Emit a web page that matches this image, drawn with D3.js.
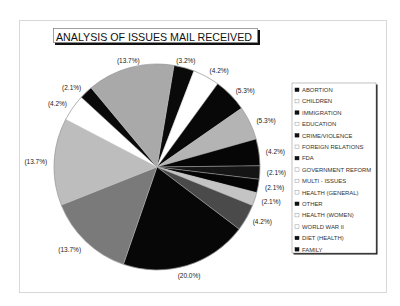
<!DOCTYPE html>
<html>
<head>
<meta charset="utf-8">
<script src="https://cdn.jsdelivr.net/npm/d3@7"></script>
<style>
  body { margin: 0; background: #fff; }
  text { font-family: Arial, "Liberation Sans", sans-serif; }
</style>
</head>
<body>
<div id="chart"></div>
<script>
// Legend categories, in the order they are listed
const categories = ["ABORTION", "CHILDREN", "IMMIGRATION", "EDUCATION", "CRIME/VIOLENCE",
  "FOREIGN RELATIONS", "FDA", "GOVERNMENT REFORM", "MULTI - ISSUES", "HEALTH (GENERAL)",
  "OTHER", "HEALTH (WOMEN)", "WORLD WAR II", "DIET (HEALTH)", "FAMILY"];

// Slice percentages, clockwise from just right of 12 o'clock
const sliceValues = [3.2, 4.2, 5.3, 5.3, 4.2, 2.1, 2.1, 2.1, 4.2, 20.0, 13.7, 13.7, 4.2, 2.1, 13.7];

// grey shades as they appear on the scan
const sliceShades = ["#0a0a0a", "#ffffff", "#080808", "#b4b4b4", "#060606", "#151515", "#050505",
  "#c4c4c4", "#4a4a4a", "#070707", "#7a7a7a", "#bdbdbd", "#ffffff", "#0a0a0a", "#a9a9a9"];
const legendDark = [1, 0, 1, 0, 1, 0, 1, 0, 0, 0, 1, 0, 0, 1, 1];

const W = 400, H = 306;
const cx = 157, cy = 167, r = 103;

const svg = d3.select("#chart").append("svg")
    .attr("width", W)
    .attr("height", H);

// faint page frame
svg.append("rect")
    .attr("x", 19.5).attr("y", 20.5)
    .attr("width", 367).attr("height", 272)
    .attr("fill", "none")
    .attr("stroke", "#d8d8d8");

// title box with drop shadow
const title = svg.append("g");
title.append("rect")
    .attr("x", 55).attr("y", 30).attr("width", 205).attr("height", 15)
    .attr("fill", "#111");
title.append("rect")
    .attr("x", 53.5).attr("y", 28.5).attr("width", 204).attr("height", 14)
    .attr("fill", "#fff").attr("stroke", "#888").attr("stroke-width", 0.8);
title.append("text")
    .attr("x", 56).attr("y", 40.5)
    .attr("textLength", 196)
    .attr("lengthAdjust", "spacingAndGlyphs")
    .style("font-size", "11.5px")
    .style("fill", "#111")
    .text("ANALYSIS OF ISSUES MAIL RECEIVED");

// pie
const startAngle = 9.5 * Math.PI / 180;
const pie = d3.pie()
    .sort(null)
    .value(d => d)
    .startAngle(startAngle)
    .endAngle(startAngle + 2 * Math.PI);

const arc = d3.arc().innerRadius(0).outerRadius(r);

const g = svg.append("g").attr("transform", `translate(${cx},${cy})`);
const arcs = pie(sliceValues);

g.selectAll("path")
    .data(arcs)
    .join("path")
    .attr("d", arc)
    .attr("fill", (d, i) => sliceShades[i])
    .attr("stroke", "#bbb")
    .attr("stroke-width", 0.4);

// outer rim
g.append("circle").attr("r", r).attr("fill", "none").attr("stroke", "#888").attr("stroke-width", 0.5);

// percentage labels
const labelR = 110;
g.selectAll("text.lbl")
    .data(arcs)
    .join("text")
    .attr("class", "lbl")
    .each(function(d) {
        const a = (d.startAngle + d.endAngle) / 2;
        const sx = Math.sin(a), cy2 = -Math.cos(a);
        const anchor = sx > 0.35 ? "start" : (sx < -0.35 ? "end" : "middle");
        d3.select(this)
            .attr("x", sx * labelR)
            .attr("y", cy2 * labelR + 2.5 + (cy2 > 0.6 ? 3 : 0))
            .attr("text-anchor", anchor);
    })
    .style("font-size", "6.5px")
    .style("fill", "#222")
    .text(d => `(${d.data.toFixed(1)}%)`);

// legend
const lx = 292, ly = 83, lw = 84, lh = 170;
const legend = svg.append("g");
legend.append("rect")
    .attr("x", lx + 1.5).attr("y", ly + 1.5).attr("width", lw).attr("height", lh)
    .attr("fill", "#111");
legend.append("rect")
    .attr("x", lx).attr("y", ly).attr("width", lw).attr("height", lh)
    .attr("fill", "#fff").attr("stroke", "#999").attr("stroke-width", 0.6);

const step = 11.4;
categories.forEach((c, i) => {
    const yy = ly + 4 + i * step;
    legend.append("rect")
        .attr("x", lx + 3).attr("y", yy + 1)
        .attr("width", 4).attr("height", 3.5)
        .attr("fill", legendDark[i] ? "#111" : "#fff")
        .attr("stroke", legendDark[i] ? "#111" : "#999")
        .attr("stroke-width", 0.5);
    legend.append("text")
        .attr("x", lx + 10).attr("y", yy + 5)
        .style("font-size", "5.9px")
        .style("fill", "#333")
        .text(c);
});
</script>
</body>
</html>
